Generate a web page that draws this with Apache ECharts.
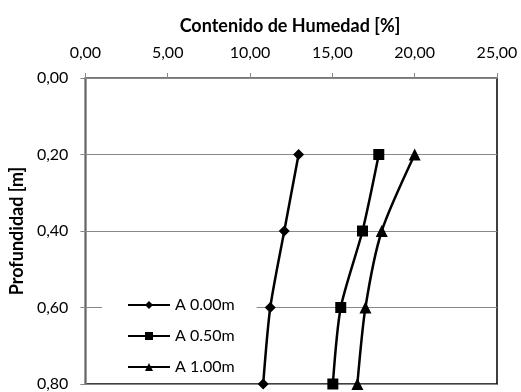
<!DOCTYPE html>
<html><head><meta charset="utf-8">
<script src="https://cdn.jsdelivr.net/npm/echarts@6/dist/echarts.min.js"></script>
<style>html,body{margin:0;padding:0;background:#fff}#c{width:521px;height:392px}</style>
</head><body><div id="c"></div>
<script>
const depths = [0.2, 0.4, 0.6, 0.8];
const seriesNames = ['A 0.00m', 'A 0.50m', 'A 1.00m'];
const humA000 = [12.95, 12.08, 11.23, 10.80];
const humA050 = [17.82, 16.83, 15.51, 15.03];
const humA100 = [20.00, 18.00, 17.01, 16.52];
const xTicks = [0, 5, 10, 15, 20, 25];
const yTicks = [0, 0.2, 0.4, 0.6, 0.8];
const symbols = ['diamond', 'rect', 'triangle'];
const values = [humA000, humA050, humA100];

const fmt = v => v.toFixed(2).replace('.', ',');
const FONT = 'Lato';
const chart = echarts.init(document.getElementById('c'), null, {renderer: 'canvas'});
chart.setOption({
  animation: false,
  backgroundColor: '#fff',
  title: {
    text: 'Contenido de Humedad [%]', left: 285, top: 12, textAlign: 'center',
    textStyle: {fontFamily: FONT, fontWeight: 'bold', fontSize: 18, color: '#000'}
  },
  grid: {left: 85, right: 24, top: 78, bottom: 6, show: true, borderColor: '#000', borderWidth: 1.5, backgroundColor: 'transparent'},
  legend: {
    orient: 'vertical', left: 102, top: 293,
    padding: [4, 22, 4, 25], backgroundColor: '#fff',
    itemWidth: 42, itemHeight: 10, itemGap: 15,
    textStyle: {fontFamily: FONT, fontSize: 16, color: '#000'},
    data: seriesNames
  },
  xAxis: {
    type: 'value', position: 'top', min: xTicks[0], max: xTicks[xTicks.length - 1], interval: 5,
    axisLine: {show: true, lineStyle: {color: '#888', width: 1.5}},
    axisTick: {show: true, inside: false, length: 5, lineStyle: {color: '#888'}},
    axisLabel: {formatter: fmt, fontFamily: FONT, fontSize: 16, color: '#000', margin: 17},
    splitLine: {show: false}
  },
  yAxis: {
    type: 'value', inverse: true, min: yTicks[0], max: yTicks[yTicks.length - 1], interval: 0.2,
    name: 'Profundidad [m]', nameLocation: 'middle', nameGap: 47, nameRotate: 90,
    nameTextStyle: {fontFamily: FONT, fontWeight: 'bold', fontSize: 18, color: '#000'},
    axisLine: {show: true, lineStyle: {color: '#888', width: 1.5}},
    axisTick: {show: true, length: 5, lineStyle: {color: '#888'}},
    axisLabel: {formatter: fmt, fontFamily: FONT, fontSize: 16, color: '#000', margin: 17},
    splitLine: {show: true, lineStyle: {color: '#888', width: 1.2}}
  },
  series: seriesNames.map((n, i) => ({
    name: n, type: 'line', smooth: 0.25,
    data: values[i].map((v, j) => [v, depths[j]]),
    symbol: symbols[i], symbolSize: i === 2 ? 12 : 11,
    lineStyle: {color: '#000', width: 2.5},
    itemStyle: {color: '#000'},
    z: 3
  }))
});
</script></body></html>
